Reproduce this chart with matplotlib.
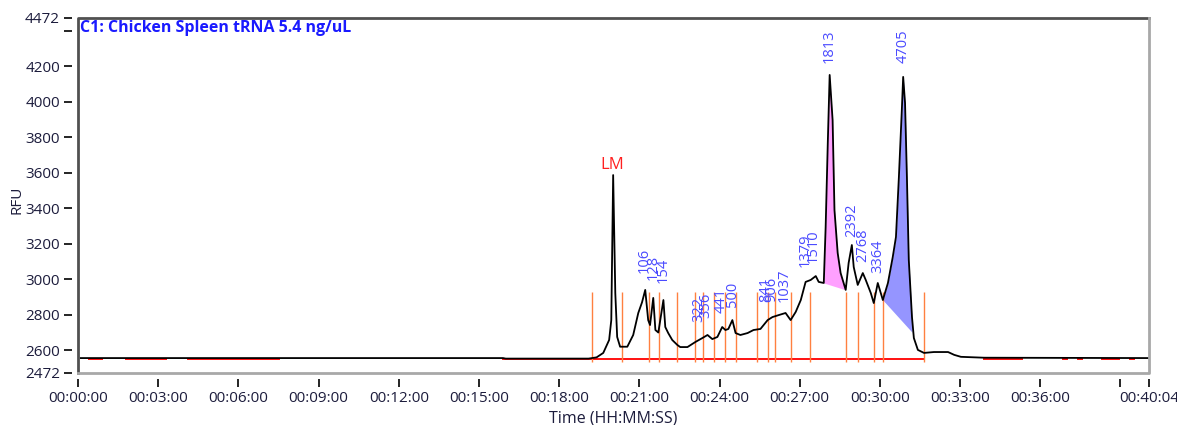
import numpy as np
import matplotlib
matplotlib.use("Agg")
import matplotlib.pyplot as plt
from matplotlib.lines import Line2D

plt.rcParams['font.family'] = ['Open Sans', 'DejaVu Sans']

# electropherogram trace (time in minutes, RFU)
trace_min = [0.1, 15.9, 16.0, 19.1, 19.4, 19.65, 19.87, 19.95, 20.02, 20.1, 20.17, 20.28,
             20.55, 20.77, 20.96, 21.1, 21.22, 21.33, 21.4, 21.52, 21.6, 21.71, 21.9, 21.97,
             22.08, 22.23, 22.42, 22.53, 22.8, 23.1, 23.36, 23.55, 23.73, 23.92, 24.1, 24.22,
             24.33, 24.48, 24.6, 24.78, 25.05, 25.27, 25.53, 25.8, 25.98, 26.21, 26.47, 26.66,
             26.85, 27.04, 27.22, 27.41, 27.6, 27.71, 27.9, 27.97, 28.05, 28.12, 28.23, 28.3,
             28.42, 28.53, 28.72, 28.83, 28.95, 29.02, 29.17, 29.36, 29.47, 29.66, 29.77, 29.92,
             30.11, 30.3, 30.48, 30.6, 30.71, 30.82, 30.87, 30.94, 31.01, 31.08, 31.2, 31.27,
             31.42, 31.65, 32.02, 32.55, 32.78, 33.03, 33.9, 40.05]
trace_rfu = [2556, 2556, 2553, 2553, 2560, 2585, 2658, 2770, 3587, 2922, 2675, 2620,
             2620, 2686, 2810, 2870, 2940, 2770, 2742, 2895, 2714, 2700, 2883, 2731,
             2697, 2658, 2630, 2618, 2618, 2647, 2669, 2686, 2663, 2675, 2731, 2714,
             2720, 2770, 2697, 2686, 2697, 2714, 2720, 2770, 2787, 2798, 2810, 2770,
             2816, 2883, 2985, 2996, 3018, 2985, 2979, 3294, 3768, 4151, 3897, 3390,
             3148, 3035, 2940, 3092, 3193, 3069, 2968, 3035, 2996, 2922, 2866, 2979,
             2883, 2979, 3125, 3238, 3576, 3954, 4140, 3993, 3576, 3109, 2787, 2669,
             2602, 2585, 2590, 2590, 2574, 2563, 2558, 2556]

# peak size labels
peak_names = ['106', '128', '154', '322', '356', '441', '500', '841', '906', '1037',
              '1379', '1510', '1813', '2392', '2768', '3364', '4705']
peak_min = [21.18, 21.52, 21.9, 23.21, 23.47, 24.07, 24.48, 25.72, 25.95, 26.4,
            27.22, 27.52, 28.12, 28.95, 29.36, 29.92, 30.86]
peak_label_rfu = [3035, 2996, 2979, 2759, 2782, 2810, 2844, 2872, 2872, 2872,
                  3069, 3092, 4218, 3238, 3097, 3035, 4218]

# peak boundaries
boundary_min = [19.24, 20.36, 21.37, 21.75, 22.42, 23.1, 23.4, 23.81, 24.22, 24.63,
                25.42, 25.83, 26.06, 26.66, 27.37, 28.72, 29.17, 29.77, 30.11, 31.65]
boundary_top = 2928
boundary_bottom = 2535

# baseline segments (start, end) in minutes
baseline_segs = [(0.4, 0.9), (1.8, 3.3), (4.1, 7.5), (15.9, 31.65), (33.9, 35.3),
                 (36.85, 37.0), (37.4, 37.55), (38.3, 38.95), (39.35, 39.5)]
baseline_rfu = 2549

# shaded peaks: start, end (min) and baseline rfu at each end
fill_start = [27.9, 30.11]
fill_end = [28.72, 31.23]
fill_start_rfu = [2979, 2883]
fill_end_rfu = [2940, 2697]
fill_colors = ['#ffa0ff', '#9595ff']

xtick_min = [0, 3, 6, 9, 12, 15, 18, 21, 24, 27, 30, 33, 36, 39, 2404 / 60]
xtick_labels = ['00:00:00', '00:03:00', '00:06:00', '00:09:00', '00:12:00', '00:15:00',
                '00:18:00', '00:21:00', '00:24:00', '00:27:00', '00:30:00', '00:33:00',
                '00:36:00', '', '00:40:04']
ytick_vals = [2472, 2600, 2800, 3000, 3200, 3400, 3600, 3800, 4000, 4200, 4400, 4472]
ytick_labels = ['2472', '2600', '2800', '3000', '3200', '3400', '3600', '3800', '4000',
                '4200', '', '4472']

fig = plt.figure(figsize=(11.77, 4.25), dpi=100)
ax = fig.add_axes([0.0663, 0.1224, 0.9099, 0.8353])

t = np.array(trace_min)
v = np.array(trace_rfu)

# shaded peaks
for s, e, sv, ev, c in zip(fill_start, fill_end, fill_start_rfu, fill_end_rfu, fill_colors):
    m = (t >= s) & (t <= e)
    tt = t[m]
    low = sv + (ev - sv) * (tt - s) / (e - s)
    ax.fill_between(tt, low, v[m], color=c, lw=0, zorder=2)

# baseline
for s, e in baseline_segs:
    ax.plot([s, e], [baseline_rfu, baseline_rfu], color='#ff1010', lw=1.4, zorder=3)

# boundaries
ax.vlines(boundary_min, boundary_bottom, boundary_top, color='#ff8040', lw=1, zorder=3)

ax.plot(t, v, color='black', lw=1.3, zorder=4)

for name, x, y in zip(peak_names, peak_min, peak_label_rfu):
    ax.text(x, y, name, rotation=90, ha='center', va='bottom', color='#4a4aff',
            fontsize=10.5, zorder=5)

ax.text(20.0, 3600, 'LM', color='#ff2020', ha='center', va='bottom', fontsize=12)
ax.text(0.002, 0.993, 'C1: Chicken Spleen tRNA 5.4 ng/uL', transform=ax.transAxes,
        color='#1a1aff', fontweight='bold', fontsize=11.5, ha='left', va='top')

ax.set_xlim(0, 2404 / 60)
ax.set_ylim(2472, 4472)
ax.set_xticks(xtick_min)
ax.set_xticklabels(xtick_labels)
ax.set_yticks(ytick_vals)
ax.set_yticklabels(ytick_labels)
ax.tick_params(direction='out', length=6, width=1.2, labelsize=11, colors='black',
               labelcolor='#1c1c3c')
ax.tick_params(axis='y', pad=3)
ax.tick_params(axis='x', pad=3)

# detached ticks, sunken frame
ax.spines['left'].set_position(('outward', 4))
ax.spines['bottom'].set_position(('outward', 4))
for sp in ax.spines.values():
    sp.set_visible(False)
ax.add_line(Line2D([0, 0, 1], [0, 1, 1], transform=ax.transAxes, color='#505050', lw=2,
                   clip_on=False, zorder=6))
ax.add_line(Line2D([0, 1, 1], [0, 0, 1], transform=ax.transAxes, color='#a8a8a8', lw=2,
                   clip_on=False, zorder=6))

ax.set_ylabel('RFU', fontsize=11, color='#1c1c3c', va='center')
ax.yaxis.set_label_coords(-0.057, 0.487)
ax.set_xlabel('Time (HH:MM:SS)', fontsize=11.5, color='#1c1c3c', labelpad=3)

fig.savefig('out.png', dpi=100)
